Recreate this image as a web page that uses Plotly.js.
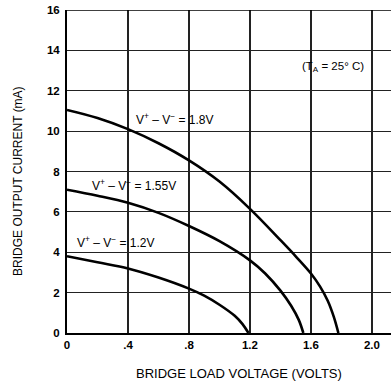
<!DOCTYPE html>
<html><head><meta charset="utf-8">
<script src="https://cdn.plot.ly/plotly-3.0.1.min.js"></script>
<style>html,body{margin:0;padding:0;background:#fff}#g{width:391px;height:381px}</style>
</head><body><div id="g"></div>
<script>
const x18 = [0, 0.2, 0.4, 0.6, 0.8, 1.0, 1.2, 1.4, 1.5, 1.6, 1.66, 1.71, 1.75, 1.78];
const y18 = [11.05, 10.65, 10.1, 9.4, 8.55, 7.5, 6.15, 4.6, 3.8, 2.95, 2.3, 1.6, 0.8, 0];
const x155 = [0, 0.2, 0.4, 0.6, 0.8, 1.0, 1.2, 1.3, 1.4, 1.47, 1.52, 1.55];
const y155 = [7.1, 6.8, 6.45, 5.95, 5.3, 4.55, 3.6, 2.95, 2.1, 1.35, 0.65, 0];
const x12 = [0, 0.2, 0.4, 0.6, 0.8, 0.9, 1.0, 1.1, 1.15, 1.19];
const y12 = [3.8, 3.5, 3.2, 2.75, 2.2, 1.85, 1.4, 0.85, 0.45, 0];
const xTickVals = [0, 0.4, 0.8, 1.2, 1.6, 2.0];
const xTickText = ["0", ".4", ".8", "1.2", "1.6", "2.0"];
const yTickVals = [0, 2, 4, 6, 8, 10, 12, 14, 16];
const yTickText = ["0", "2", "4", "6", "8", "10", "12", "14", "16"];

const lineStyle = {color: '#000', width: 2.6, shape: 'spline', smoothing: 1};
const traces = [
  {x: x18, y: y18, mode: 'lines', line: lineStyle, hoverinfo: 'skip'},
  {x: x155, y: y155, mode: 'lines', line: lineStyle, hoverinfo: 'skip'},
  {x: x12, y: y12, mode: 'lines', line: lineStyle, hoverinfo: 'skip'}
];
const F = 'Liberation Sans, Arial, sans-serif';
const layout = {
  width: 391, height: 381,
  margin: {l: 67, r: 0, t: 10, b: 48},
  paper_bgcolor: '#fff', plot_bgcolor: '#fff',
  showlegend: false,
  font: {family: F, color: '#000', size: 12},
  xaxis: {range: [0, 2.125], tickvals: xTickVals, ticktext: xTickText,
    showgrid: true, gridcolor: '#222', gridwidth: 1.2,
    showline: true, linecolor: '#000', linewidth: 2, zeroline: false,
    ticks: '', ticklen: 0, tickfont: {family: F, size: 11.5, weight: 'bold'}, fixedrange: true},
  yaxis: {range: [0, 16], tickvals: yTickVals, ticktext: yTickText,
    showgrid: true, gridcolor: '#222', gridwidth: 1.2,
    showline: true, linecolor: '#000', linewidth: 2, zeroline: false,
    ticks: '', ticklen: 0, ticklabelstandoff: 3, tickfont: {family: F, size: 11.5, weight: 'bold'}, fixedrange: true},
  shapes: [
    {type: 'line', xref: 'paper', yref: 'y', x0: 0, x1: 1, y0: 16, y1: 16, line: {color: '#000', width: 1.5}}
  ],
  annotations: [
    {xref: 'x', yref: 'y', x: 0.44, y: 10.6, text: 'V<sup>+</sup> – V<sup>−</sup> = 1.8V', showarrow: false, xanchor: 'left', font: {family: F, size: 12}},
    {xref: 'x', yref: 'y', x: 0.15, y: 7.35, text: 'V<sup>+</sup> – V<sup>−</sup> = 1.55V', showarrow: false, xanchor: 'left', font: {family: F, size: 12}},
    {xref: 'x', yref: 'y', x: 0.05, y: 4.5, text: 'V<sup>+</sup> – V<sup>−</sup> = 1.2V', showarrow: false, xanchor: 'left', font: {family: F, size: 12}},
    {xref: 'x', yref: 'y', x: 1.53, y: 13.2, text: '(T<sub>A</sub> = 25° C)', showarrow: false, xanchor: 'left', font: {family: F, size: 11.5}},
    {xref: 'paper', yref: 'paper', x: 0.53, y: -0.125, text: 'BRIDGE LOAD VOLTAGE (VOLTS)', showarrow: false, xanchor: 'center', yanchor: 'middle', font: {family: F, size: 13}},
    {xref: 'paper', yref: 'paper', x: -0.152, y: 0.47, text: 'BRIDGE OUTPUT CURRENT (mA)', showarrow: false, textangle: -90, xanchor: 'center', yanchor: 'middle', font: {family: F, size: 12}}
  ]
};
Plotly.newPlot('g', traces, layout, {displayModeBar: false, staticPlot: true});
</script></body></html>
